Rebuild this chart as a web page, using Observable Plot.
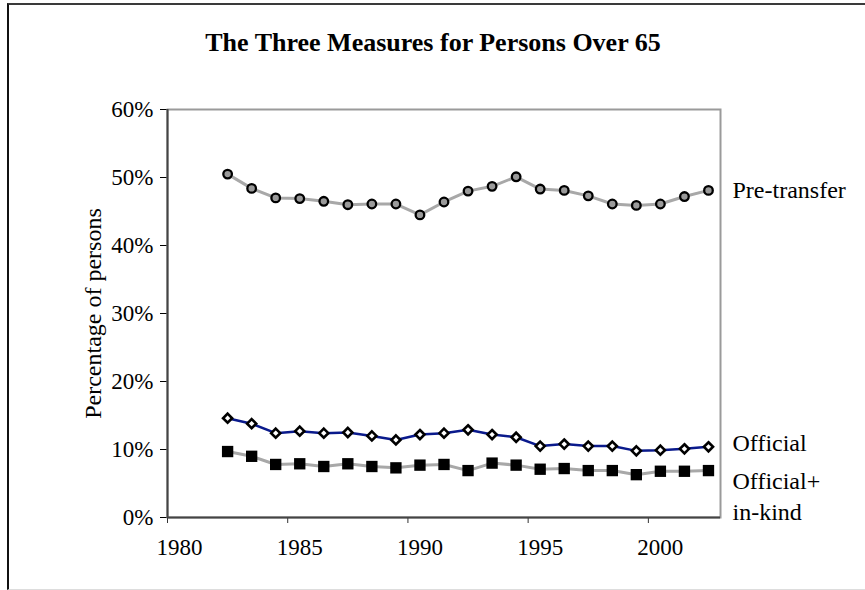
<!DOCTYPE html>
<html>
<head>
<meta charset="utf-8">
<script src="https://cdn.jsdelivr.net/npm/d3@7"></script>
<script src="https://cdn.jsdelivr.net/npm/@observablehq/plot@0.6"></script>
<style>
  html, body { margin: 0; padding: 0; background: #fff; }
  #wrap { position: relative; width: 865px; height: 590px; overflow: hidden; }
  #border { position: absolute; left: 7px; top: 3px; width: 900px; height: 584px;
            border-left: 2px solid #111; border-top: 2px solid #3a3a3a; border-bottom: 1px solid #ddd; }
  #chart { position: absolute; left: 0; top: 0; }
</style>
</head>
<body>
<div id="wrap"><div id="border"></div><div id="chart"></div></div>
<script>
const title = "The Three Measures for Persons Over 65";
const yLabel = "Percentage of persons";
const years = [1982.5, 1983.5, 1984.5, 1985.5, 1986.5, 1987.5, 1988.5, 1989.5, 1990.5, 1991.5,
               1992.5, 1993.5, 1994.5, 1995.5, 1996.5, 1997.5, 1998.5, 1999.5, 2000.5, 2001.5, 2002.5];
const preTransfer = [50.5, 48.4, 47.0, 46.9, 46.5, 46.0, 46.1, 46.1, 44.5, 46.4,
                     48.0, 48.7, 50.1, 48.3, 48.1, 47.3, 46.1, 45.9, 46.1, 47.2, 48.1];
const official = [14.6, 13.8, 12.4, 12.7, 12.4, 12.5, 12.0, 11.4, 12.2, 12.4,
                  12.9, 12.2, 11.8, 10.5, 10.8, 10.5, 10.5, 9.8, 9.9, 10.1, 10.4];
const officialInKind = [9.7, 9.0, 7.8, 7.9, 7.5, 7.9, 7.5, 7.3, 7.7, 7.8,
                        6.9, 8.0, 7.7, 7.1, 7.2, 6.9, 6.9, 6.3, 6.8, 6.8, 6.9];
const seriesNames = ["Pre-transfer", "Official", "Official+\nin-kind"];
const xTicks = [1980, 1985, 1990, 1995, 2000];
const yTicks = [0, 10, 20, 30, 40, 50, 60];

const mk = (vals) => years.map((x, i) => ({x, y: vals[i]}));
const pre = mk(preTransfer), off = mk(official), ink = mk(officialInKind);
const last = (arr, name) => [{x: arr[arr.length - 1].x, y: arr[arr.length - 1].y, name}];

const font = "'Liberation Serif', 'Times New Roman', serif";

const chart = Plot.plot({
  width: 865,
  height: 590,
  marginLeft: 167,
  marginRight: 145,
  marginTop: 109,
  marginBottom: 73,
  style: {fontFamily: font, fontSize: "23px", color: "#000", background: "transparent"},
  x: {domain: [1980, 2003], label: null, axis: null},
  y: {domain: [0, 60], ticks: yTicks, tickFormat: d => d + "%", tickSize: 7, tickPadding: 7, label: null},
  marks: [
    Plot.frame({stroke: "#9a9a9a", strokeWidth: 2}),
    Plot.axisX(xTicks, {tickSize: 6, tickFormat: () => "", stroke: "#333"}),
    Plot.axisX(xTicks, {tickSize: 0, tickPadding: 21, dx: 12, tickFormat: "d", fontSize: 23}),
    Plot.ruleX([1980], {stroke: "#444", strokeWidth: 2}),
    Plot.ruleY([0], {stroke: "#444", strokeWidth: 2}),
    Plot.line(pre, {x: "x", y: "y", stroke: "#a8a8a8", strokeWidth: 3}),
    Plot.line(ink, {x: "x", y: "y", stroke: "#a8a8a8", strokeWidth: 3}),
    Plot.line(off, {x: "x", y: "y", stroke: "#0a1a8c", strokeWidth: 2.5}),
    Plot.dot(pre, {x: "x", y: "y", r: 4.3, fill: "#9a9a9a", stroke: "#000", strokeWidth: 2.3}),
    Plot.dot(off, {x: "x", y: "y", symbol: "diamond2", r: 4.1, fill: "#fff", stroke: "#000", strokeWidth: 2.6}),
    Plot.dot(ink, {x: "x", y: "y", symbol: "square", r: 6.4, fill: "#000", stroke: "none"}),
    Plot.text(last(pre, seriesNames[0]), {x: () => 2003, y: "y", text: "name", textAnchor: "start", dx: 12, fontSize: 24}),
    Plot.text(last(off, seriesNames[1]), {x: () => 2003, y: "y", text: "name", textAnchor: "start", dx: 12, dy: -3, fontSize: 24}),
    Plot.text(last(ink, seriesNames[2]), {x: () => 2003, y: "y", text: "name", textAnchor: "start", dx: 12, dy: 24, lineHeight: 1.3, fontSize: 24}),
    Plot.text([title], {frameAnchor: "top", dx: -11, dy: -67, lineAnchor: "middle", fontWeight: "bold", fontSize: 26, textAnchor: "middle"}),
    Plot.text([yLabel], {frameAnchor: "left", dx: -74, rotate: -90, lineAnchor: "middle", textAnchor: "middle", fontSize: 24})
  ]
});
document.getElementById("chart").appendChild(chart);
</script>
</body>
</html>
